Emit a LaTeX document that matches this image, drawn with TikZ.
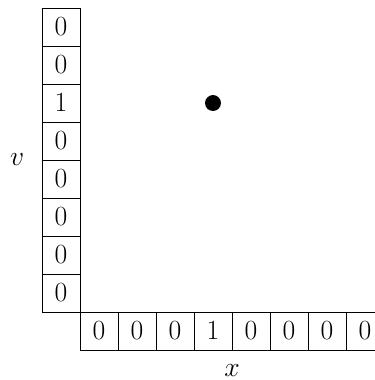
\documentclass[tikz,border=0pt]{standalone}
\usetikzlibrary{positioning}
\begin{document}
\begin{tikzpicture}[x=1cm,y=1cm,
  cell/.style={draw,line width=0.7pt,minimum size=1cm,inner sep=0pt,font=\huge},
  lbl/.style={font=\huge,inner sep=0pt}]
\useasboundingbox (-2.105,-1.789) rectangle (7.763,8.211);
% vertical column (top to bottom)
\foreach \v [count=\i from 0] in {0,0,1,0,0,0,0,0}{
  \node[cell] (c\i) at (-0.5,7.5-\i) {$\v$};
}
% horizontal row
\foreach \v [count=\i from 0] in {0,0,0,1,0,0,0,0}{
  \node[cell] (r\i) at (0.5+\i,-0.5) {$\v$};
}
\node[lbl] (v) at (-1.65,4) {$v$};
\node[lbl] (x) at (4,-1.55) {$x$};
\fill (3.5,5.5) circle (0.21);
\end{tikzpicture}
\end{document}
